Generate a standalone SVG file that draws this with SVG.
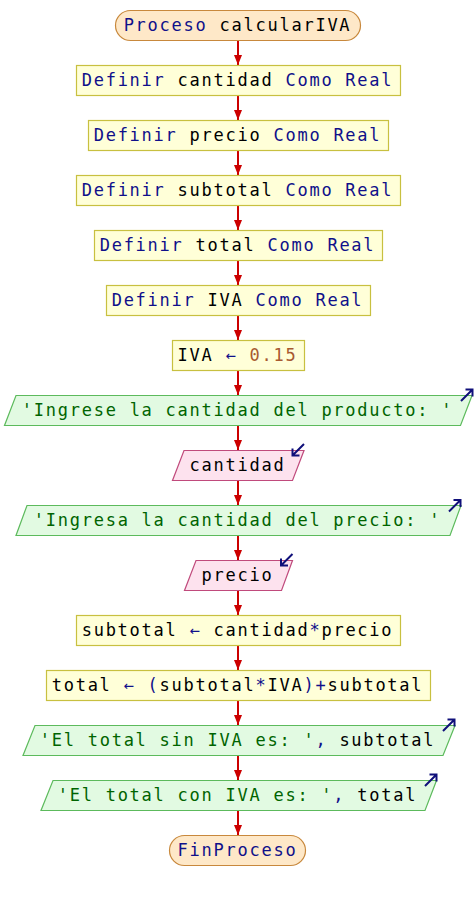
<svg xmlns="http://www.w3.org/2000/svg" width="476" height="900" viewBox="0 0 476 900">
<defs>
<style>
.term{fill:#fee8c8;stroke:#c8883c;stroke-width:1.2}
.proc{fill:#ffffd8;stroke:#c8c040;stroke-width:1.2}
.out{fill:#e2fae2;stroke:#5cba5c;stroke-width:1.2}
.in{fill:#fde2ee;stroke:#c04a7c;stroke-width:1.2}
text{font-family:"DejaVu Sans Mono","Liberation Mono",monospace;font-size:17px;letter-spacing:1.75px;text-anchor:middle;fill:#000}
.k{fill:#10108a}
.s{fill:#006400}
.n{fill:#a85a30}
.icon{fill:none;stroke:#10107a;stroke-width:2}
.conn line{stroke:#cc0000;stroke-width:2}
</style>
<marker id="ah" markerUnits="userSpaceOnUse" markerWidth="12" markerHeight="8" refX="10" refY="4" orient="auto">
<path d="M0,0 L10,4 L0,8 Z" fill="#cc0000"/>
</marker>
</defs>
<rect width="476" height="900" fill="#fff"/>
<g class="conn">
<line x1="238" y1="40.5" x2="238" y2="65" marker-end="url(#ah)"/>
<line x1="238" y1="95.5" x2="238" y2="120" marker-end="url(#ah)"/>
<line x1="238" y1="150.5" x2="238" y2="175" marker-end="url(#ah)"/>
<line x1="238" y1="205.5" x2="238" y2="230" marker-end="url(#ah)"/>
<line x1="238" y1="260.5" x2="238" y2="285" marker-end="url(#ah)"/>
<line x1="238" y1="315.5" x2="238" y2="340" marker-end="url(#ah)"/>
<line x1="238" y1="370.5" x2="238" y2="395" marker-end="url(#ah)"/>
<line x1="238" y1="425.5" x2="238" y2="450" marker-end="url(#ah)"/>
<line x1="238" y1="480.5" x2="238" y2="505" marker-end="url(#ah)"/>
<line x1="238" y1="535.5" x2="238" y2="560" marker-end="url(#ah)"/>
<line x1="238" y1="590.5" x2="238" y2="615" marker-end="url(#ah)"/>
<line x1="238" y1="645.5" x2="238" y2="670" marker-end="url(#ah)"/>
<line x1="238" y1="700.5" x2="238" y2="725" marker-end="url(#ah)"/>
<line x1="238" y1="755.5" x2="238" y2="780" marker-end="url(#ah)"/>
<line x1="238" y1="810.5" x2="238" y2="835" marker-end="url(#ah)"/>
</g>
<g id="inicio">
<rect class="term" x="115.5" y="10.5" width="245" height="30" rx="15"/>
<text x="237.5" y="31"><tspan class="k">Proceso</tspan> calcularIVA</text>
</g>
<g id="def-cantidad">
<rect class="proc" x="76.5" y="65.5" width="324" height="30"/>
<text x="237.5" y="86"><tspan class="k">Definir</tspan> cantidad <tspan class="k">Como Real</tspan></text>
</g>
<g id="def-precio">
<rect class="proc" x="88.5" y="120.5" width="300" height="30"/>
<text x="237.5" y="141"><tspan class="k">Definir</tspan> precio <tspan class="k">Como Real</tspan></text>
</g>
<g id="def-subtotal">
<rect class="proc" x="76.5" y="175.5" width="324" height="30"/>
<text x="237.5" y="196"><tspan class="k">Definir</tspan> subtotal <tspan class="k">Como Real</tspan></text>
</g>
<g id="def-total">
<rect class="proc" x="94.5" y="230.5" width="288" height="30"/>
<text x="237.5" y="251"><tspan class="k">Definir</tspan> total <tspan class="k">Como Real</tspan></text>
</g>
<g id="def-iva">
<rect class="proc" x="106.5" y="285.5" width="264" height="30"/>
<text x="237.5" y="306"><tspan class="k">Definir</tspan> IVA <tspan class="k">Como Real</tspan></text>
</g>
<g id="asig-iva">
<rect class="proc" x="172.5" y="340.5" width="132" height="30"/>
<text x="237.5" y="361">IVA <tspan class="k">←</tspan> <tspan class="n">0.15</tspan></text>
</g>
<g id="escribir-1">
<polygon class="out" points="16,395.5 472,395.5 460.5,425.5 4.5,425.5"/>
<text x="237.5" y="416" class="s">'Ingrese la cantidad del producto: '</text>
<path class="icon" d="M461,401 L472.5,389.5 M465.5,389.5 L472.5,389.5 L472.5,396.5"/>
</g>
<g id="leer-cantidad">
<polygon class="in" points="184,450.5 304,450.5 292.5,480.5 172.5,480.5"/>
<text x="237.5" y="471">cantidad</text>
<path class="icon" d="M304,444 L292.5,455.5 M292.5,448.5 L292.5,455.5 L299.5,455.5"/>
</g>
<g id="escribir-2">
<polygon class="out" points="27,505.5 461,505.5 450,535.5 16,535.5"/>
<text x="237.5" y="526" class="s">'Ingresa la cantidad del precio: '</text>
<path class="icon" d="M449,511.5 L460.5,500 M453.5,500 L460.5,500 L460.5,507"/>
</g>
<g id="leer-precio">
<polygon class="in" points="196,560.5 292.5,560.5 281.5,590.5 184.5,590.5"/>
<text x="237.5" y="581">precio</text>
<path class="icon" d="M292.5,554 L281,565.5 M281,558.5 L281,565.5 L288,565.5"/>
</g>
<g id="asig-subtotal">
<rect class="proc" x="76.5" y="615.5" width="324" height="30"/>
<text x="237.5" y="636">subtotal <tspan class="k">←</tspan> cantidad<tspan class="k">*</tspan>precio</text>
</g>
<g id="asig-total">
<rect class="proc" x="46.5" y="670.5" width="384" height="30"/>
<text x="237.5" y="691">total <tspan class="k">←</tspan> <tspan class="k">(</tspan>subtotal<tspan class="k">*</tspan>IVA<tspan class="k">)+</tspan>subtotal</text>
</g>
<g id="escribir-3">
<polygon class="out" points="35,725.5 455,725.5 443,755.5 23,755.5"/>
<text x="237.5" y="746"><tspan class="s">'El total sin IVA es: '</tspan><tspan class="k">,</tspan> subtotal</text>
<path class="icon" d="M443,731 L454.5,719.5 M447.5,719.5 L454.5,719.5 L454.5,726.5"/>
</g>
<g id="escribir-4">
<polygon class="out" points="53,780.5 436.5,780.5 425,810.5 41,810.5"/>
<text x="237.5" y="801"><tspan class="s">'El total con IVA es: '</tspan><tspan class="k">,</tspan> total</text>
<path class="icon" d="M425,786 L436.5,774.5 M429.5,774.5 L436.5,774.5 L436.5,781.5"/>
</g>
<g id="fin">
<rect class="term" x="169.5" y="835.5" width="136" height="30" rx="15"/>
<text x="237.5" y="856" class="k">FinProceso</text>
</g>
</svg>
